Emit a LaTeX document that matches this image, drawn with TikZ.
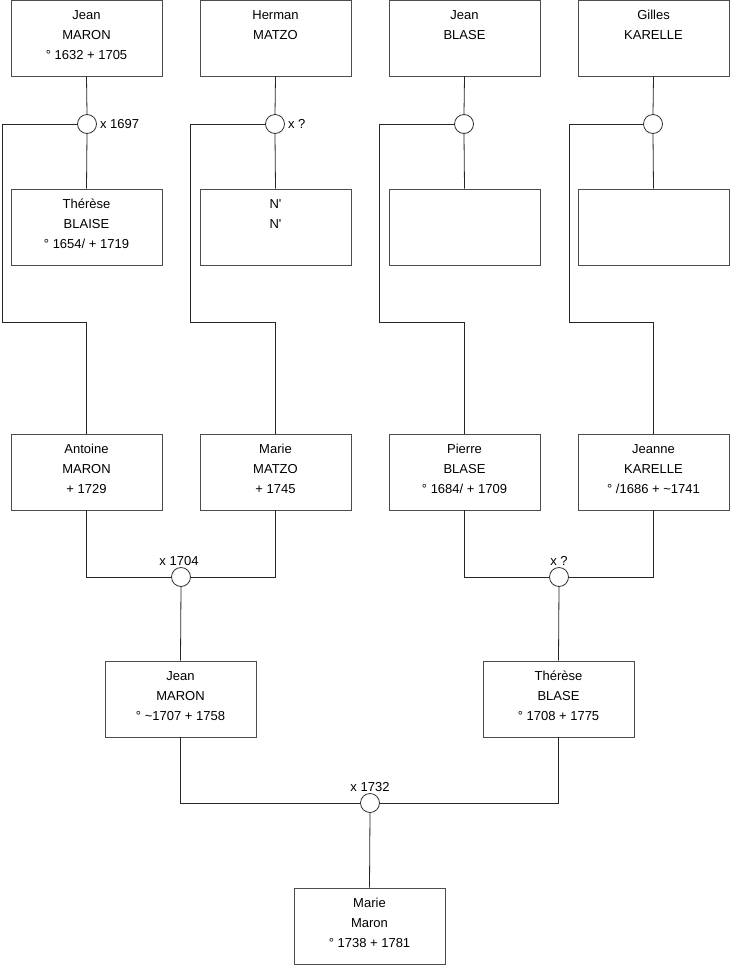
\documentclass[tikz,border=0pt]{standalone}
\usepackage{fontspec}
\setmainfont{Liberation Sans}
\usetikzlibrary{positioning}

\begin{document}
\begin{tikzpicture}[
  x=1pt, y=-1pt,
  font=\fontsize{13}{20}\selectfont,
  person/.style={draw=black!70, line width=0.8pt, align=center, minimum width=151pt, minimum height=76pt, inner sep=2pt, fill=white,
    execute at begin node=\strut, execute at end node={\strut\\[-16pt]\strut}},
  union/.style={circle, draw=black!80, line width=0.8pt, fill=white, minimum size=19pt, inner sep=0pt},
  link/.style={draw=black!85, line width=0.8pt},
  wed/.style={font=\fontsize{13}{14}\selectfont, inner sep=1pt},
]
\useasboundingbox (0,0) rectangle (740,975);
% Great-grandparents
\node[person] (jeanM) at (86.5,38) {Jean\\MARON\\° 1632 + 1705};
\node[person] (herman) at (275.5,38) {Herman\\MATZO\\};
\node[person] (jeanB) at (464.5,38) {Jean\\BLASE\\};
\node[person] (gilles) at (653.5,38) {Gilles\\KARELLE\\};
% Unions
\node[union] (u1) at (87,124) {};
\node[union] (u2) at (275,124) {};
\node[union] (u3) at (464,124) {};
\node[union] (u4) at (653,124) {};
\node[wed, right=2pt of u1] (w1) {x 1697};
\node[wed, right=2pt of u2] (w2) {x ?};
% Great-grandmothers
\node[person] (therese1) at (86.5,227) {Thérèse\\BLAISE\\° 1654/ + 1719};
\node[person] (nn) at (275.5,227) {N\textquotesingle\\N\textquotesingle\\};
\node[person] (empty1) at (464.5,227) {};
\node[person] (empty2) at (653.5,227) {};
\foreach \p/\u/\c in {jeanM/u1/therese1, herman/u2/nn, jeanB/u3/empty1, gilles/u4/empty2} {
  \draw[link] (\p.south) -- (\u.north);
  \draw[link] (\u.south) -- (\c.north);
}
% Grandparents
\node[person] (antoine) at (86.5,472) {Antoine\\MARON\\+ 1729};
\node[person] (marie1) at (275.5,472) {Marie\\MATZO\\+ 1745};
\node[person] (pierre) at (464.5,472) {Pierre\\BLASE\\° 1684/ + 1709};
\node[person] (jeanne) at (653.5,472) {Jeanne\\KARELLE\\° /1686 + \textasciitilde 1741};
\coordinate (k1) at (2,322);
\coordinate (k2) at (190,322);
\coordinate (k3) at (379,322);
\coordinate (k4) at (569,322);
\draw[link] (u1.west) -| (k1) -| (antoine.north);
\draw[link] (u2.west) -| (k2) -| (marie1.north);
\draw[link] (u3.west) -| (k3) -| (pierre.north);
\draw[link] (u4.west) -| (k4) -| (jeanne.north);
% Parents
\node[union] (u5) at (181,577) {};
\node[union] (u6) at (559,577) {};
\node[wed, above=0pt of u5, xshift=-2pt] (w5) {x 1704};
\node[wed, above=0pt of u6] (w6) {x ?};
\draw[link] (antoine.south) |- (u5.west);
\draw[link] (marie1.south) |- (u5.east);
\draw[link] (pierre.south) |- (u6.west);
\draw[link] (jeanne.south) |- (u6.east);
\node[person] (jean2) at (180.5,699) {Jean\\MARON\\° \textasciitilde 1707 + 1758};
\node[person] (therese2) at (558.5,699) {Thérèse\\BLASE\\° 1708 + 1775};
\draw[link] (u5.south) -- (jean2.north);
\draw[link] (u6.south) -- (therese2.north);
% Child
\node[union] (u7) at (370,803) {};
\node[wed, above=0pt of u7] (w7) {x 1732};
\draw[link] (jean2.south) |- (u7.west);
\draw[link] (therese2.south) |- (u7.east);
\node[person] (marie2) at (369.5,926) {Marie\\Maron\\° 1738 + 1781};
\draw[link] (u7.south) -- (marie2.north);
\end{tikzpicture}
\end{document}
